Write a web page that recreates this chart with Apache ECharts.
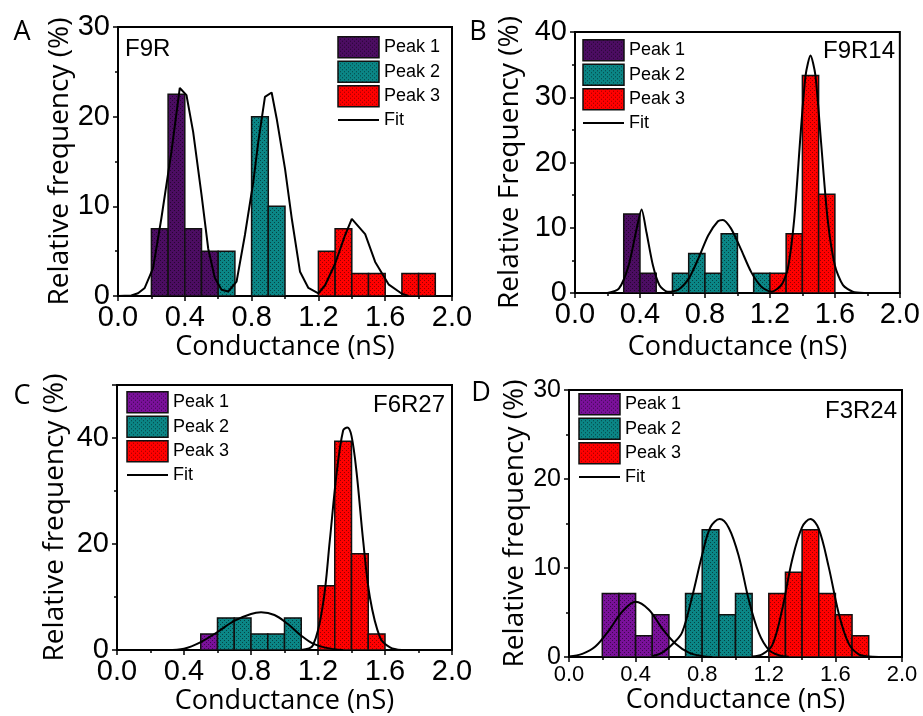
<!DOCTYPE html>
<html><head><meta charset="utf-8">
<script src="https://cdn.jsdelivr.net/npm/echarts@6/dist/echarts.min.js"></script>
<style>html,body{margin:0;padding:0;background:#fff}#c{width:923px;height:716px}</style>
</head><body><div id="c"></div>
<script>
// ---------------- DATA ----------------
const binWidth = 0.1;
const xTicks = [0.0, 0.4, 0.8, 1.2, 1.6, 2.0];

// Panel A (F9R)
const aPeak1Start = [0.2, 0.3, 0.4, 0.5];
const aPeak1Freq  = [7.5, 22.5, 7.5, 5];
const aPeak2Start = [0.6, 0.8, 0.9];
const aPeak2Freq  = [5, 20, 10];
const aPeak3Start = [1.2, 1.3, 1.4, 1.5, 1.7, 1.8];
const aPeak3Freq  = [5, 7.5, 2.5, 2.5, 2.5, 2.5];
const aFitX = [0, 0.08, 0.12, 0.16, 0.21, 0.26, 0.32, 0.37, 0.41, 0.45, 0.50, 0.54, 0.58, 0.62, 0.66, 0.71, 0.76, 0.81, 0.84, 0.88, 0.92, 0.95, 1.00, 1.04, 1.09, 1.14, 1.20, 1.24, 1.30, 1.36, 1.40, 1.48, 1.54, 1.62, 1.70, 1.74];
const aFitY = [0, 0.05, 0.3, 0.9, 3.1, 8.7, 16.1, 23.2, 22.4, 18.3, 11.3, 5.3, 2.0, 0.7, 0.5, 1.6, 6.8, 12.7, 17.2, 22.2, 22.7, 19.8, 14.2, 8.7, 2.7, 0.9, 0.3, 1.2, 3.6, 6.8, 8.6, 6.9, 3.8, 1.3, 0.25, 0];

// Panel B (F9R14)
const bPeak1Start = [0.3, 0.4];
const bPeak1Freq  = [12.12, 3.03];
const bPeak2Start = [0.6, 0.7, 0.8, 0.9, 1.1];
const bPeak2Freq  = [3.03, 6.06, 3.03, 9.09, 3.03];
const bPeak3Start = [1.2, 1.3, 1.4, 1.5];
const bPeak3Freq  = [3.03, 9.09, 33.33, 15.15];
const bFitX = [0.20, 0.27, 0.33, 0.38, 0.41, 0.44, 0.48, 0.52, 0.57, 0.635, 0.70, 0.76, 0.82, 0.88, 0.91, 0.96, 1.02, 1.085, 1.15, 1.21, 1.27, 1.31, 1.35, 1.39, 1.42, 1.45, 1.48, 1.515, 1.555, 1.60, 1.65, 1.71, 1.78];
const bFitY = [0, 0.66, 4.2, 9.9, 12.8, 9.3, 4.2, 1.2, 0.2, 0.5, 2.2, 5.3, 8.8, 11.0, 11.2, 9.9, 6.8, 3.2, 0.9, 0.2, 1.2, 3.7, 11.4, 24.7, 33.4, 36.4, 33.4, 23.1, 11.4, 4.2, 1.2, 0.2, 0];

// Panel C (F6R27)
const cPeak1Start = [0.5];
const cPeak1Freq  = [3.03];
const cPeak2Start = [0.6, 0.7, 0.8, 0.9, 1.0];
const cPeak2Freq  = [6.06, 6.06, 3.03, 3.03, 6.06];
const cPeak3Start = [1.2, 1.3, 1.4, 1.5];
const cPeak3Freq  = [12.12, 39.39, 18.18, 3.03];
const cFit2X = [0.30, 0.40, 0.50, 0.60, 0.70, 0.80, 0.86, 0.94, 1.02, 1.10, 1.17, 1.25, 1.35];
const cFit2Y = [0, 0.25, 1.5, 3.4, 5.5, 6.8, 7.1, 6.6, 4.9, 2.7, 1.2, 0.4, 0];
const cFit3X = [1.10, 1.17, 1.23, 1.27, 1.31, 1.35, 1.375, 1.40, 1.43, 1.47, 1.51, 1.57, 1.63, 1.70];
const cFit3Y = [0, 0.9, 8.7, 20.5, 33.0, 41.4, 42.0, 40.4, 33.6, 20.5, 9.9, 2.4, 0.5, 0];

// Panel D (F3R24)
const dPeak1Start = [0.2, 0.3, 0.4, 0.5];
const dPeak1Freq  = [7.14, 7.14, 2.38, 4.76];
const dPeak2Start = [0.7, 0.8, 0.9, 1.0];
const dPeak2Freq  = [7.14, 14.29, 4.76, 7.14];
const dPeak3Start = [1.2, 1.3, 1.4, 1.5, 1.6, 1.7];
const dPeak3Freq  = [7.14, 9.52, 14.29, 7.14, 4.76, 2.38];
const dFit1X = [0, 0.08, 0.16, 0.24, 0.32, 0.40, 0.48, 0.56, 0.64, 0.72, 0.80, 0.86];
const dFit1Y = [0.05, 0.35, 1.2, 3.0, 5.1, 6.2, 5.3, 3.2, 1.5, 0.5, 0.1, 0];
const dFit2X = [0.50, 0.56, 0.63, 0.68, 0.74, 0.80, 0.85, 0.905, 0.96, 1.02, 1.08, 1.14, 1.20, 1.26, 1.32];
const dFit2Y = [0.1, 0.5, 1.6, 2.8, 6.8, 11.5, 14.6, 15.5, 14.5, 11.3, 6.4, 2.7, 0.8, 0.2, 0.02];
const dFit3X = [1.10, 1.16, 1.22, 1.28, 1.34, 1.40, 1.45, 1.50, 1.56, 1.62, 1.68, 1.74, 1.80, 1.86];
const dFit3Y = [0.05, 0.3, 1.3, 5.3, 10.9, 14.6, 15.5, 14.4, 10.1, 4.9, 1.5, 0.3, 0.05, 0];

// ---------------- STYLE / BUILD ----------------
function makePattern(base, alpha) {
  const c = document.createElement('canvas');
  c.width = 4; c.height = 4;
  const g = c.getContext('2d');
  g.fillStyle = base; g.fillRect(0, 0, 4, 4);
  g.fillStyle = 'rgba(0,0,0,' + alpha + ')';
  g.fillRect(0, 0, 1, 1); g.fillRect(2, 2, 1, 1);
  return { image: c, repeat: 'repeat' };
}
const purpleDark = makePattern('#4c0d62', 0.5);
const purpleLight = makePattern('#7a119a', 0.5);
const teal = makePattern('#0b8686', 0.5);
const red = makePattern('#ff0000', 0.42);

function histSeries(name, gi, starts, freqs, fill) {
  return {
    type: 'custom', name, xAxisIndex: gi, yAxisIndex: gi, z: 2, clip: true,
    itemStyle: { color: fill },
    data: starts.map((s, i) => [s, s + binWidth, freqs[i]]),
    encode: { x: [0, 1], y: 2 },
    renderItem: (params, api) => {
      const p0 = api.coord([api.value(0), 0]);
      const p1 = api.coord([api.value(1), api.value(2)]);
      return { type: 'rect',
        shape: { x: p0[0], y: p1[1], width: p1[0] - p0[0], height: p0[1] - p1[1] },
        style: { fill: fill, stroke: '#111', lineWidth: 1.5 } };
    }
  };
}
function fitSeries(gi, xs, ys, smooth) {
  return { type: 'line', name: 'Fit', xAxisIndex: gi, yAxisIndex: gi, z: 5,
    symbol: 'none', smooth: smooth, clip: true,
    lineStyle: { color: '#000', width: 2 }, itemStyle: { color: '#000' },
    data: xs.map((x, i) => [x, ys[i]]) };
}

const grids = [
  { left: 118, top: 27, width: 334, height: 269 },
  { left: 575, top: 32, width: 326, height: 261 },
  { left: 117, top: 385, width: 335, height: 268 },
  { left: 569, top: 390, width: 333, height: 267 }
];
const yMax = [30, 40, 50, 30];
const yInt = [10, 10, 20, 10];
const yNames = ['Relative frequency (%)', 'Relative Frequency (%)', 'Relative frequency (%)', 'Relative frequency (%)'];
const xNameGap = [38, 41, 38, 29];
const yNameGap = [42, 51, 48, 40];
const xLabelSize = [29, 29, 29, 22];
const yLabelSize = [29, 29, 29, 25];

const axisCommon = {
  axisLine: { lineStyle: { color: '#000', width: 2 } },
  axisTick: { inside: false, length: 5, lineStyle: { color: '#000', width: 1.5 } },
  minorTick: { show: true, splitNumber: 2, length: 3, lineStyle: { color: '#000', width: 1.5 } },
  splitLine: { show: false }
};
const xTitleFont = { fontFamily: 'Open Sans', fontSize: 27, color: '#000' };
const yTitleFont = { fontFamily: 'Open Sans', fontSize: 28, color: '#000' };

const xAxes = grids.map((g, i) => Object.assign({}, axisCommon, {
  type: 'value', gridIndex: i, min: 0, max: 2, interval: 0.4,
  name: 'Conductance (nS)', nameLocation: 'middle', nameGap: xNameGap[i], nameTextStyle: xTitleFont,
  axisLabel: { fontFamily: 'Liberation Sans', fontSize: xLabelSize[i], color: '#000', margin: 7,
    formatter: v => v.toFixed(1) }
}));
const yAxes = grids.map((g, i) => Object.assign({}, axisCommon, {
  type: 'value', gridIndex: i, min: 0, max: yMax[i], interval: yInt[i],
  name: yNames[i], nameLocation: 'middle', nameGap: yNameGap[i], nameTextStyle: yTitleFont,
  axisLabel: { fontFamily: 'Liberation Sans', fontSize: yLabelSize[i], color: '#000', margin: 8,
    showMaxLabel: i !== 2 }
}));

const series = [
  histSeries('Peak 1', 0, aPeak1Start, aPeak1Freq, purpleDark),
  histSeries('Peak 2', 0, aPeak2Start, aPeak2Freq, teal),
  histSeries('Peak 3', 0, aPeak3Start, aPeak3Freq, red),
  fitSeries(0, aFitX, aFitY, false),
  histSeries('Peak 1', 1, bPeak1Start, bPeak1Freq, purpleDark),
  histSeries('Peak 2', 1, bPeak2Start, bPeak2Freq, teal),
  histSeries('Peak 3', 1, bPeak3Start, bPeak3Freq, red),
  fitSeries(1, bFitX, bFitY, 0.25),
  histSeries('Peak 1', 2, cPeak1Start, cPeak1Freq, purpleLight),
  histSeries('Peak 2', 2, cPeak2Start, cPeak2Freq, teal),
  histSeries('Peak 3', 2, cPeak3Start, cPeak3Freq, red),
  fitSeries(2, cFit2X, cFit2Y, 0.35),
  fitSeries(2, cFit3X, cFit3Y, 0.35),
  histSeries('Peak 1', 3, dPeak1Start, dPeak1Freq, purpleLight),
  histSeries('Peak 2', 3, dPeak2Start, dPeak2Freq, teal),
  histSeries('Peak 3', 3, dPeak3Start, dPeak3Freq, red),
  fitSeries(3, dFit1X, dFit1Y, 0.35),
  fitSeries(3, dFit2X, dFit2Y, 0.35),
  fitSeries(3, dFit3X, dFit3Y, 0.35)
];

function legendAt(left, top, purple) {
  const box = (c) => ({ color: c, borderColor: '#111', borderWidth: 1.5 });
  return {
    left, top, orient: 'vertical', itemWidth: 41, itemHeight: 21, itemGap: 2,
    padding: 0, selectedMode: false,
    textStyle: { fontFamily: 'Liberation Sans', fontSize: 18, lineHeight: 21, color: '#000' },
    data: [
      { name: 'Peak 1', icon: 'rect', itemStyle: box(purple) },
      { name: 'Peak 2', icon: 'rect', itemStyle: box(teal) },
      { name: 'Peak 3', icon: 'rect', itemStyle: box(red) },
      { name: 'Fit', itemStyle: { color: 'rgba(0,0,0,0)', borderWidth: 0, opacity: 0 }, lineStyle: { color: '#000', width: 2 } }
    ]
  };
}

function label(x, y, text, align, font) {
  return { type: 'text', x, y, style: { text, textAlign: align, textVerticalAlign: 'middle', font, fill: '#000' } };
}
const letterFont = '27px "Open Sans"';
const tagFont = '24px "Liberation Sans"';

const chart = echarts.init(document.getElementById('c'));
chart.setOption({
  animation: false,
  backgroundColor: '#fff',
  grid: grids.map(g => Object.assign({ show: true, borderColor: '#000', borderWidth: 2, backgroundColor: 'transparent' }, g)),
  xAxis: xAxes,
  yAxis: yAxes,
  legend: [legendAt(337, 36, purpleDark), legendAt(582, 39, purpleDark), legendAt(126, 391, purpleLight), legendAt(578, 393, purpleLight)],
  series,
  graphic: [
    label(22, 32, 'A', 'center', letterFont),
    label(478, 32, 'B', 'center', letterFont),
    label(22, 396, 'C', 'center', letterFont),
    label(481, 393, 'D', 'center', letterFont),
    label(125, 49, 'F9R', 'left', tagFont),
    label(895, 51, 'F9R14', 'right', tagFont),
    label(445, 405, 'F6R27', 'right', tagFont),
    label(897, 411, 'F3R24', 'right', tagFont)
  ]
});
</script></body></html>
